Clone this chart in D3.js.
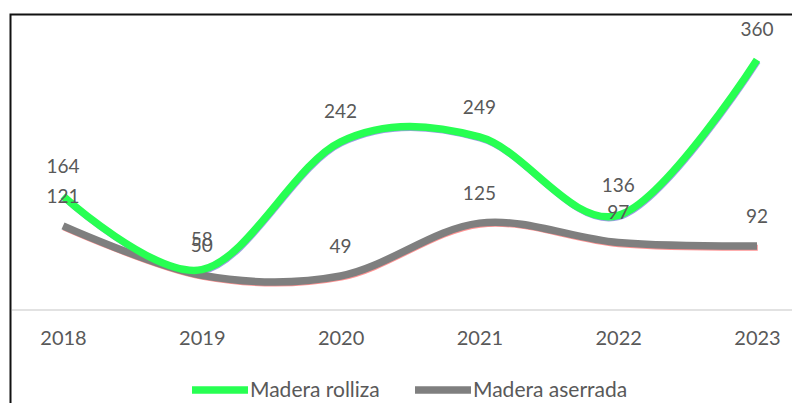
<!DOCTYPE html>
<html>
<head>
<meta charset="utf-8">
<script src="https://cdn.jsdelivr.net/npm/d3@7"></script>
<style>
  html, body { margin: 0; padding: 0; background: #fff; }
  svg { display: block; }
  text { font-family: Lato, "Open Sans", sans-serif; fill: #595959; }
</style>
</head>
<body>
<svg id="chart" width="792" height="403"></svg>
<script>
// Years on the category axis
const years = ["2018", "2019", "2020", "2021", "2022", "2023"];
// Madera rolliza (round wood)
const rolliza = [164, 58, 242, 249, 136, 360];
// Madera aserrada (sawn wood)
const aserrada = [121, 50, 49, 125, 97, 92];
// Legend entries
const seriesNames = ["Madera rolliza", "Madera aserrada"];

const W = 792, H = 403;
const svg = d3.select("#chart");

const x = d3.scalePoint().domain(years).range([63, 757]);
const y = d3.scaleLinear().domain([0, 400]).range([310, 32]);

// Outer frame
svg.append("rect")
  .attr("x", 10.5).attr("y", 14.5)
  .attr("width", 820).attr("height", 420)
  .attr("fill", "none").attr("stroke", "#111").attr("stroke-width", 2);

// Category axis baseline
svg.append("line")
  .attr("x1", 12).attr("x2", W)
  .attr("y1", y(0)).attr("y2", y(0))
  .attr("stroke", "#d9d9d9").attr("stroke-width", 1.5);

// Year labels
const xAxis = svg.append("g")
  .attr("transform", `translate(0,${y(0) + 20})`)
  .call(d3.axisBottom(x).tickSize(0).tickPadding(0));
xAxis.select(".domain").remove();
xAxis.selectAll("text")
  .attr("font-size", 20)
  .attr("dy", "0.75em")
  .style("font-family", "Lato, 'Open Sans', sans-serif")
  .attr("fill", "#595959");

const line = d3.line()
  .x((d, i) => x(years[i]))
  .y(d => y(d))
  .curve(d3.curveCatmullRom.alpha(0));

const series = [
  { name: seriesNames[0], values: rolliza, color: "#27ff52", edge: "#4a4ad0" },
  { name: seriesNames[1], values: aserrada, color: "#7f7f7f", edge: "#ff3b3b" }
];

// Thin edge line under each thick line, then the thick line
series.slice().reverse().forEach(s => {
  svg.append("path")
    .datum(s.values)
    .attr("d", line)
    .attr("transform", "translate(0.8,1.6)")
    .attr("fill", "none")
    .attr("stroke", s.edge)
    .attr("stroke-width", 6)
    .attr("stroke-opacity", 0.55);
});
series.slice().reverse().forEach(s => {
  svg.append("path")
    .datum(s.values)
    .attr("d", line)
    .attr("fill", "none")
    .attr("stroke", s.color)
    .attr("stroke-width", 7.5)
    .attr("stroke-linecap", "butt");
});

// Value labels above the points
series.forEach(s => {
  svg.append("g").selectAll("text")
    .data(s.values)
    .join("text")
    .attr("x", (d, i) => x(years[i]))
    .attr("y", d => y(d) - 30)
    .attr("dy", "0.35em")
    .attr("text-anchor", "middle")
    .attr("font-size", 19)
    .text(d => d);
});

// Legend
const legend = svg.append("g").attr("transform", "translate(0,390)");
const legendItems = [
  { x0: 192, color: series[0].color, label: seriesNames[0] },
  { x0: 415, color: series[1].color, label: seriesNames[1] }
];
legendItems.forEach(l => {
  legend.append("line")
    .attr("x1", l.x0).attr("x2", l.x0 + 56)
    .attr("y1", 0).attr("y2", 0)
    .attr("stroke", l.color).attr("stroke-width", 7.5);
  legend.append("text")
    .attr("x", l.x0 + 58).attr("y", 0)
    .attr("dy", "0.35em")
    .attr("font-size", 21)
    .text(l.label);
});
</script>
</body>
</html>
